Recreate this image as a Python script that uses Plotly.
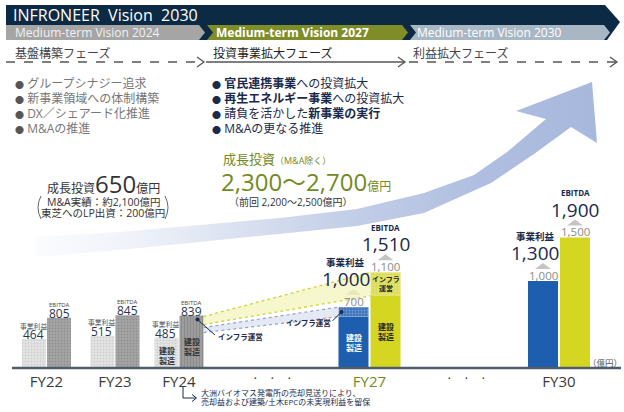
import plotly.graph_objects as go

# --- data ---
early_years = ["FY22", "FY23", "FY24"]
early_profit = [464, 515, 485]
early_ebitda = [805, 845, 839]

plan_years = ["FY27", "FY30"]
plan_profit = [700, 1000]
plan_profit_infra = [110, 0]
plan_profit_target = [1000, 1300]
plan_ebitda = [1100, 1500]
plan_ebitda_infra = [270, 0]
plan_ebitda_target = [1510, 1900]

visions = ["Medium-term Vision 2024", "Medium-term Vision 2027", "Medium-term Vision 2030"]
phases = ["基盤構築フェーズ", "投資事業拡大フェーズ", "利益拡大フェーズ"]
bullets_left = ["グループシナジー追求", "新事業領域への体制構築", "DX／シェアード化推進", "M&Aの推進"]
bullets_mid = ["<b>官民連携事業</b>への投資拡大", "<b>再生エネルギー事業</b>への投資拡大",
               "請負を活かした<b>新事業の実行</b>", "M&Aの更なる推進"]

invest_past = 650
invest_past_notes = ["M&A実績：約2,100億円", "東芝へのLP出資：200億円"]
invest_plan = (2300, 2700)
invest_prev = (2200, 2500)

# --- layout helpers (pixel space of the 624x412 picture) ---
W, H = 624, 412
OFF = 0          # body margin is removed in post_script
BASE = 368
S_EARLY = 0.0625
S_PLAN = 0.087
early_x = [46.5, 115, 179]
plan_x = [369.5, 559]
FONT = "Open Sans, Noto Sans CJK JP, sans-serif"
NAVY = "#1b2a4a"
OLIVE = "#738a1e"


def ep(v):
    return BASE - v * S_EARLY


def pp(v):
    return BASE - v * S_PLAN


def fmt(v):
    return f"{v:,}"


fig = go.Figure()


def txt(x, y, s, size=12, color="#333", xanchor="center"):
    fig.add_annotation(x=x, y=y, xref="x", yref="y", text=s, showarrow=False,
                       xanchor=xanchor, yanchor="middle", borderpad=0,
                       font=dict(size=size, color=color, family=FONT))


def path(d, fill=None, color=None, width=0, dash=None):
    fig.add_shape(type="path", path=d, xref="x", yref="y",
                  fillcolor=fill, line=dict(color=color, width=width, dash=dash))


# big curved arrow
upper = [(35, 237), (120, 232), (200, 225), (280, 218), (357, 209), (424, 193),
         (474, 175), (507, 152), (546, 119)]
head = [(516, 111), (592, 82), (597, 143), (571, 127)]
lower = [(534, 154), (491, 183), (424, 213), (357, 226), (280, 234), (200, 242),
         (120, 250), (35, 257)]
pts = upper + head + lower + [upper[0]]
fig.add_trace(go.Scatter(
    x=[p[0] for p in pts], y=[p[1] for p in pts], mode="lines", fill="toself",
    line=dict(width=0), hoverinfo="skip", showlegend=False,
    fillgradient=dict(type="horizontal", colorscale=[
        [0, "rgba(240,243,250,0.3)"], [0.3, "#e1e7f3"], [0.55, "#c4cfe8"],
        [0.8, "#afbee0"], [1, "#a7b8dd"]])))

# early bars
fig.add_trace(go.Bar(
    x=[c - 12.5 for c in early_x], y=early_profit, width=24, yaxis="y3",
    marker=dict(color="#e2e2e2", line=dict(width=0),
                pattern=dict(shape=".", bgcolor="#e4e4e4", fgcolor="#b9b9b9", size=3, solidity=0.35)),
    hoverinfo="skip", showlegend=False))
fig.add_trace(go.Bar(
    x=[c + 12.5 for c in early_x], y=early_ebitda, width=24, yaxis="y3",
    marker=dict(color="#a3a3a3", line=dict(width=0),
                pattern=dict(shape=[".", ".", "|"], bgcolor=["#a6a6a6", "#a6a6a6", "#9d9d9d"],
                             fgcolor="#7a7a7a", size=3, solidity=0.35)),
    hoverinfo="skip", showlegend=False))

# plan bars (construction + infra)
prof_build = [t - i for t, i in zip(plan_profit, plan_profit_infra)]
ebit_build = [t - i for t, i in zip(plan_ebitda, plan_ebitda_infra)]
bx = [c - 16 for c in plan_x]
yx = [c + 16 for c in plan_x]
fig.add_trace(go.Bar(x=bx, y=prof_build, width=30, yaxis="y2",
                     marker=dict(color="#1d5fae", line=dict(width=0)),
                     hoverinfo="skip", showlegend=False))
fig.add_trace(go.Bar(x=bx, y=plan_profit_infra, base=prof_build, width=30, yaxis="y2",
                     marker=dict(color="#3d73bb", line=dict(width=0),
                                 pattern=dict(shape=".", bgcolor="#3d73bb", fgcolor="#a9c3e6",
                                              size=3, solidity=0.35)),
                     hoverinfo="skip", showlegend=False))
fig.add_trace(go.Bar(x=yx, y=ebit_build, width=30, yaxis="y2",
                     marker=dict(color="#d4d622", line=dict(width=0)),
                     hoverinfo="skip", showlegend=False))
fig.add_trace(go.Bar(x=yx, y=plan_ebitda_infra, base=ebit_build, width=30, yaxis="y2",
                     marker=dict(color="#e3e470", line=dict(width=0),
                                 pattern=dict(shape=".", bgcolor="#e3e470", fgcolor="#c4c61c",
                                              size=3, solidity=0.35)),
                     hoverinfo="skip", showlegend=False))

# header banners
path("M6,5 L605,5 L620,22 L607,40 L6,40 Z", fill="#0c2a43")
path("M6,25 L199,25 L205,32.5 L199,40 L6,40 Z", fill="#a5a5a5")
path("M207,25 L402,25 L408,32.5 L402,40 L207,40 L213,32.5 Z", fill="#7f8d28")
path("M410,25 L604,25 L610,32.5 L604,40 L410,40 L416,32.5 Z", fill="#a9b6c4")
txt(12, 15, "INFRONEER\u00a0\u00a0Vision\u00a0\u00a02030", 16, "white", "left")
txt(14, 32.5, visions[0], 12, "#f2f2f2", "left")
txt(215, 32.5, "<b>" + visions[1] + "</b>", 12, "white", "left")
txt(416, 32.5, visions[2], 12, "white", "left")

# phases
txt(14, 53, phases[0], 12, "#444", "left")
txt(212, 53, phases[1], 12, "#222", "left")
txt(412, 53, phases[2], 12, "#444", "left")
fig.add_shape(type="line", x0=6, x1=203, y0=62, y1=62, xref="x", yref="y",
              line=dict(color="#555", width=1.3, dash="dash"))
fig.add_shape(type="line", x0=206, x1=404, y0=62, y1=62, xref="x", yref="y",
              line=dict(color="#555", width=1.3))
fig.add_shape(type="line", x0=409, x1=616, y0=62, y1=62, xref="x", yref="y",
              line=dict(color="#555", width=1.3, dash="dash"))
for ax in (204, 405, 617):
    path(f"M{ax-7},{57} L{ax},{62} L{ax-7},{67}", color="#555", width=1.3)

for i, b in enumerate(bullets_left):
    txt(14, 83 + 15 * i, "<span style='font-size:9px;color:#555'>●</span> " + b, 12, "#777", "left")
for i, b in enumerate(bullets_mid):
    txt(211, 83 + 15 * i, "<span style='font-size:9px'>●</span> " + b, 12, NAVY, "left")

# investment texts
txt(103, 183, f"成長投資<span style='font-size:24px'>{invest_past}</span>億円", 12, "#333")
txt(103, 202, invest_past_notes[0], 10.5, "#333")
txt(103, 213, invest_past_notes[1], 10.5, "#333")
path("M41,196 Q35,207.5 41,219", color="#666", width=1)
path("M165,196 Q171,207.5 165,219", color="#666", width=1)

txt(222, 159, "成長投資<span style='font-size:9px'>（M&A除く）</span>", 13, OLIVE, "left")
txt(220, 181, f"{fmt(invest_plan[0])}〜{fmt(invest_plan[1])}<span style='font-size:12px'>億円</span>",
    24, OLIVE, "left")
txt(228, 202, f"（前回 {fmt(invest_prev[0])}〜{fmt(invest_prev[1])}億円）", 10, "#333", "left")

# early bar labels
for i in range(3):
    px_, ex_ = early_x[i] - 13.5, early_x[i] + 12.5
    txt(px_, ep(early_profit[i]) - 13, "事業利益", 6.8, "#555")
    txt(px_, ep(early_profit[i]) - 4.5, str(early_profit[i]), 12, "#2a3550")
    txt(ex_, ep(early_ebitda[i]) - 13, "EBITDA", 6, "#444")
    txt(ex_, ep(early_ebitda[i]) - 4.5, str(early_ebitda[i]), 12, "#2a3550")

txt(early_x[2] - 12.5, 355, "<b>建設<br>製造</b>", 8, "#333")
txt(early_x[2] + 12.5, 346, "<b>建設<br>製造</b>", 8, "#333")

# plan bar labels
for i in range(2):
    groups = [(bx[i] - 8, plan_profit[i], plan_profit_target[i], "事業利益", bx[i]),
              (yx[i], plan_ebitda[i], plan_ebitda_target[i], "EBITDA", yx[i])]
    for lx, cur, tgt, name, cx in groups:
        top = pp(cur)
        txt(cx, top - 6, fmt(cur), 11.5, "#8c8c8c")
        path(f"M{cx-8},{top-12} L{cx},{top-18} L{cx+8},{top-12} Z", fill="#c4c4c4")
        txt(lx, top - 28, fmt(tgt), 19, NAVY)
        txt(lx, top - 45, f"<b>{name}</b>", 8 if name == "EBITDA" else 9.5, NAVY)

txt(bx[0], (BASE + pp(prof_build[0])) / 2, "<b>建設<br>製造</b>", 8, "white")
txt(yx[0], (pp(plan_ebitda[0]) + pp(ebit_build[0])) / 2, "<b>インフラ<br>運営</b>", 7, "#222")
txt(yx[0], (BASE + pp(ebit_build[0])) / 2, "<b>建設<br>製造</b>", 8, "#222")

# projection bands FY24 -> FY27
lx0 = early_x[2] + 24.5
e_top = ep(early_ebitda[2])
y_l = yx[0] - 15
b_r = bx[0] - 15
path(f"M{lx0},{e_top+1} L{y_l},{pp(plan_ebitda[0])} L{y_l},{pp(ebit_build[0])} L{lx0},{e_top+9} Z",
     fill="rgba(244,244,190,0.75)")
path(f"M{lx0},{e_top+1} L{y_l},{pp(plan_ebitda[0])}", color="#d2d23c", width=1.3, dash="dot")
path(f"M{lx0},{e_top+9} L{y_l},{pp(ebit_build[0])}", color="#d2d23c", width=1.3, dash="dot")
path(f"M{lx0},{e_top+12} L{b_r},{pp(plan_profit[0])} L{b_r},{pp(prof_build[0])} L{lx0},{e_top+17} Z",
     fill="rgba(222,228,240,0.8)")
path(f"M{lx0},{e_top+12} L{b_r},{pp(plan_profit[0])}", color="#8fa3cc", width=1.2, dash="dot")
path(f"M{lx0},{e_top+17} L{b_r},{pp(prof_build[0])}", color="#8fa3cc", width=1.2, dash="dot")

# callouts
d1x, d1y = early_x[2] + 18.5, e_top + 4
fig.add_shape(type="circle", x0=d1x - 2, x1=d1x + 2, y0=d1y - 2, y1=d1y + 2, xref="x", yref="y",
              fillcolor=NAVY, line=dict(width=0))
path(f"M{d1x},{d1y} L215,335", color=NAVY, width=1)
txt(217, 337, "<b>インフラ運営</b>", 7.5, NAVY, "left")
d2x, d2y = b_r + 3, (pp(plan_profit[0]) + pp(prof_build[0])) / 2
fig.add_shape(type="circle", x0=d2x - 2, x1=d2x + 2, y0=d2y - 2, y1=d2y + 2, xref="x", yref="y",
              fillcolor=NAVY, line=dict(width=0))
path(f"M{d2x},{d2y} L{d2x-9},{d2y+9}", color=NAVY, width=1)
txt(d2x - 10, d2y + 11, "<b>インフラ運営</b>", 7.5, NAVY, "right")

# baseline, dots, unit
fig.add_shape(type="line", x0=12, x1=621, y0=BASE, y1=BASE, xref="x", yref="y",
              line=dict(color="#4f5d6b", width=2.5))
for cx in (272, 466):
    for dx in (-17, 0, 17):
        txt(cx + dx, 378, "•", 7, "#444")
txt(605, 362, "（億円）", 8.5, "#555")

# footnote
path("M183,386 L183,398 L196,398", color=NAVY, width=1)
path("M192,394.5 L196.5,398 L192,401.5", color=NAVY, width=1)
txt(200, 392, "大洲バイオマス発電所の売却見送りにより、", 8, NAVY, "left")
txt(200, 401, "売却益および建築/土木EPCの未実現利益を留保", 8, NAVY, "left")

ticktext = early_years + [f"<span style='color:{OLIVE}'>{plan_years[0]}</span>", plan_years[1]]
base_fig = BASE - OFF
fig.update_layout(
    width=W, height=H, margin=dict(l=0, r=0, t=0, b=0), autosize=False,
    paper_bgcolor="white", plot_bgcolor="white", barmode="overlay", hovermode=False,
    xaxis=dict(range=[OFF, W + OFF], domain=[0, 1], showgrid=False, zeroline=False, showline=False,
               ticks="", tickvals=early_x + plan_x, ticktext=ticktext, ticklabelstandoff=3,
               tickfont=dict(size=15, color="#3a3a3a", family=FONT),
               anchor="free", position=(H - base_fig) / H, fixedrange=True),
    yaxis=dict(range=[H + OFF, OFF], domain=[0, 1], visible=False, fixedrange=True),
    yaxis2=dict(range=[-(H - base_fig) / S_PLAN, base_fig / S_PLAN], overlaying="y", visible=False),
    yaxis3=dict(range=[-(H - base_fig) / S_EARLY, base_fig / S_EARLY], overlaying="y", visible=False),
)

fig.write_html("out.html", config={"displayModeBar": False},
               post_script="document.body.style.margin='0px';")
